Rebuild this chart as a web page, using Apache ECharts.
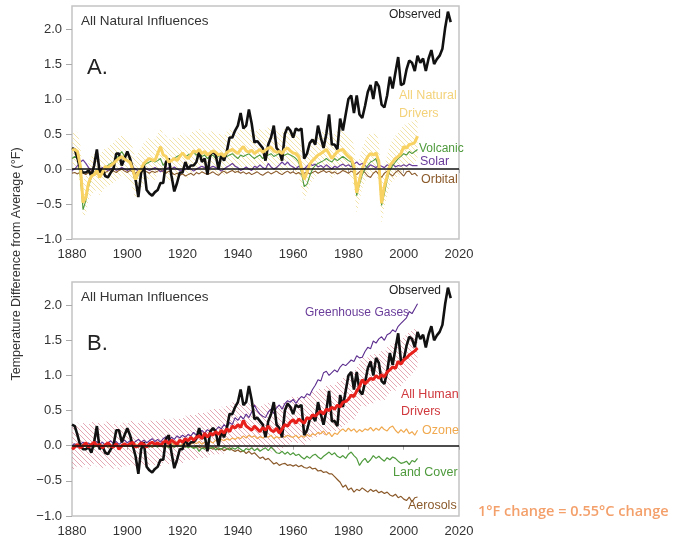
<!DOCTYPE html>
<html><head><meta charset="utf-8">
<script src="https://cdn.jsdelivr.net/npm/echarts@6/dist/echarts.min.js"></script>
<style>html,body{margin:0;padding:0;background:#fff;}#c{width:692px;height:543px;}</style>
</head><body><div id="c"></div>
<script>
// ---------- DATA ----------
const observedStart = 1880;
const observed = [
0.30,0.28,0.15,0.00,-0.05,-0.05,-0.02,-0.10,0.05,0.28,
-0.05,0.00,-0.10,-0.12,-0.05,0.00,0.22,0.22,0.05,0.15,
0.25,0.15,0.00,-0.15,-0.40,-0.05,0.05,-0.30,-0.35,-0.38,
-0.33,-0.30,-0.20,-0.20,0.10,0.15,-0.10,-0.32,-0.20,-0.05,
-0.05,0.10,0.00,0.05,0.05,0.10,0.25,0.10,0.15,-0.08,
0.20,0.25,0.20,0.00,0.20,0.12,0.25,0.45,0.45,0.55,
0.62,0.80,0.58,0.62,0.85,0.65,0.38,0.40,0.35,0.30,
0.12,0.35,0.45,0.62,0.30,0.25,0.12,0.50,0.60,0.55,
0.45,0.58,0.55,0.58,0.15,0.22,0.37,0.42,0.35,0.62,
0.45,0.30,0.50,0.78,0.35,0.35,0.28,0.72,0.55,0.78,
1.00,1.05,0.80,1.05,0.78,0.73,0.90,1.10,1.20,1.00,
1.25,1.18,0.92,0.88,1.05,1.32,1.15,1.38,1.60,1.20,
1.22,1.42,1.55,1.52,1.40,1.62,1.52,1.58,1.40,1.58,
1.70,1.50,1.57,1.62,1.72,2.02,2.25,2.10];

const modelStart = 1880;
const natural = [
0.27,0.28,0.25,0.05,-0.48,-0.40,-0.20,-0.10,-0.08,-0.02,
-0.12,-0.05,0.04,0.02,0.05,0.08,0.12,0.15,0.18,0.14,
0.12,0.10,-0.01,-0.15,-0.05,0.00,0.08,0.12,0.15,0.13,
0.12,0.22,0.32,0.20,0.18,0.10,0.12,0.15,0.12,0.18,
0.23,0.18,0.15,0.20,0.26,0.24,0.28,0.22,0.25,0.20,
0.23,0.26,0.24,0.20,0.22,0.18,0.24,0.26,0.28,0.25,
0.22,0.28,0.32,0.26,0.24,0.27,0.22,0.25,0.28,0.24,
0.27,0.30,0.31,0.26,0.24,0.25,0.22,0.28,0.30,0.26,
0.23,0.22,0.18,0.02,-0.15,-0.05,0.07,0.12,0.16,0.20,
0.22,0.25,0.28,0.22,0.15,0.20,0.25,0.27,0.28,0.22,
0.18,0.15,0.04,-0.34,-0.15,0.00,0.10,0.18,0.22,0.20,
0.23,0.10,-0.49,-0.25,-0.10,0.05,0.10,0.15,0.18,0.22,
0.32,0.30,0.35,0.36,0.38,0.47];
const naturalHigh = [
0.50,0.55,0.52,0.35,-0.15,-0.10,0.10,0.18,0.22,0.28,
0.20,0.25,0.32,0.30,0.35,0.38,0.42,0.45,0.48,0.45,
0.42,0.40,0.30,0.15,0.25,0.30,0.38,0.42,0.45,0.44,
0.42,0.50,0.58,0.50,0.48,0.42,0.44,0.46,0.44,0.48,
0.52,0.48,0.45,0.50,0.56,0.54,0.58,0.52,0.55,0.50,
0.52,0.56,0.54,0.50,0.52,0.48,0.54,0.56,0.58,0.55,
0.52,0.58,0.62,0.56,0.54,0.57,0.52,0.55,0.58,0.54,
0.57,0.60,0.61,0.56,0.54,0.55,0.52,0.58,0.60,0.56,
0.53,0.52,0.48,0.32,0.15,0.25,0.37,0.42,0.46,0.50,
0.52,0.55,0.58,0.52,0.45,0.50,0.55,0.57,0.58,0.52,
0.48,0.45,0.34,0.00,0.15,0.30,0.40,0.48,0.52,0.50,
0.53,0.40,-0.15,0.05,0.20,0.35,0.42,0.48,0.52,0.56,
0.64,0.62,0.67,0.68,0.70,0.75];
const naturalLow = [
0.00,0.00,-0.03,-0.25,-0.70,-0.65,-0.45,-0.36,-0.34,-0.28,
-0.38,-0.32,-0.24,-0.26,-0.22,-0.20,-0.16,-0.13,-0.10,-0.14,
-0.16,-0.18,-0.29,-0.44,-0.33,-0.28,-0.20,-0.16,-0.13,-0.15,
-0.16,-0.06,0.04,-0.08,-0.10,-0.18,-0.16,-0.13,-0.16,-0.10,
-0.05,-0.10,-0.13,-0.08,-0.02,-0.04,0.00,-0.06,-0.03,-0.08,
-0.05,-0.02,-0.04,-0.08,-0.06,-0.10,-0.04,-0.02,0.00,-0.03,
-0.06,0.00,0.04,-0.02,-0.04,-0.01,-0.06,-0.03,0.00,-0.04,
-0.01,0.02,0.03,-0.02,-0.04,-0.03,-0.06,0.00,0.02,-0.02,
-0.05,-0.06,-0.10,-0.28,-0.45,-0.35,-0.22,-0.16,-0.12,-0.08,
-0.06,-0.03,0.00,-0.06,-0.13,-0.08,-0.03,-0.01,0.00,-0.06,
-0.10,-0.13,-0.25,-0.64,-0.45,-0.28,-0.18,-0.10,-0.06,-0.08,
-0.05,-0.20,-0.79,-0.55,-0.38,-0.23,-0.18,-0.13,-0.10,-0.06,
0.02,0.00,0.05,0.06,0.08,0.15];
const volcanic = [
0.15,0.18,0.15,-0.10,-0.58,-0.45,-0.25,-0.12,-0.05,0.00,
-0.05,-0.02,0.02,0.05,0.08,0.10,0.15,0.20,0.25,0.18,
0.12,0.10,0.00,-0.18,-0.08,0.00,0.05,0.08,0.10,0.12,
0.10,0.12,0.15,0.05,0.10,0.12,0.12,0.15,0.18,0.20,
0.22,0.18,0.20,0.22,0.25,0.20,0.22,0.18,0.20,0.15,
0.18,0.20,0.15,0.18,0.22,0.20,0.18,0.20,0.22,0.18,
0.15,0.20,0.18,0.20,0.22,0.18,0.15,0.18,0.20,0.15,
0.18,0.20,0.22,0.18,0.20,0.22,0.18,0.20,0.22,0.20,
0.18,0.15,0.10,-0.05,-0.25,-0.22,-0.10,0.00,0.05,0.08,
0.10,0.12,0.15,0.12,0.10,0.15,0.12,0.15,0.18,0.15,
0.12,0.10,-0.05,-0.38,-0.22,-0.08,0.00,0.05,0.10,0.12,
0.15,0.00,-0.52,-0.35,-0.15,-0.02,0.05,0.10,0.15,0.18,
0.22,0.20,0.25,0.22,0.25,0.28];
const solar = [
-0.02,0.00,0.05,0.10,0.13,0.08,0.02,-0.02,-0.05,-0.03,
0.00,0.02,0.00,-0.02,0.00,0.02,-0.02,0.00,0.02,0.00,
-0.02,0.00,0.02,0.00,-0.03,0.00,0.02,0.00,-0.02,0.00,
0.02,0.00,-0.04,-0.02,0.00,0.02,0.00,0.03,0.00,-0.02,
-0.02,0.00,0.02,0.00,-0.03,0.00,0.02,0.04,0.02,0.00,
0.02,0.04,0.02,0.00,-0.03,0.00,0.03,0.05,0.08,0.04,
0.02,-0.02,0.00,0.03,0.00,-0.02,0.04,0.02,0.06,0.02,
0.00,0.08,0.03,0.00,0.02,0.06,0.10,0.06,0.10,0.05,
0.03,0.00,0.04,0.02,0.00,0.04,0.08,0.05,0.07,0.03,
0.05,0.02,0.06,0.03,0.00,0.04,0.02,0.05,0.07,0.04,
0.06,0.03,0.07,0.10,0.06,0.08,0.05,0.02,0.06,0.04,
0.02,0.06,0.04,0.02,0.06,0.04,0.07,0.03,0.05,0.04,
0.06,0.04,0.07,0.05,0.05,0.05];
const orbital = [
-0.06,-0.05,-0.07,-0.04,-0.06,-0.08,-0.05,-0.03,-0.05,-0.07,
-0.04,-0.02,-0.05,-0.03,-0.01,-0.03,-0.05,-0.02,0.00,-0.03,
-0.05,-0.02,-0.04,-0.06,-0.03,-0.05,-0.02,-0.04,-0.06,-0.03,
-0.05,-0.03,-0.01,-0.04,-0.06,-0.03,-0.05,-0.08,-0.06,-0.09,
-0.07,-0.10,-0.08,-0.06,-0.09,-0.05,-0.07,-0.04,-0.06,-0.08,
-0.06,-0.04,-0.07,-0.09,-0.05,-0.03,-0.06,-0.04,-0.02,-0.05,
-0.03,-0.06,-0.04,-0.07,-0.05,-0.08,-0.06,-0.04,-0.07,-0.09,
-0.06,-0.04,-0.07,-0.05,-0.03,-0.06,-0.08,-0.05,-0.03,-0.06,
-0.04,-0.07,-0.05,-0.08,-0.06,-0.04,-0.07,-0.05,-0.03,-0.06,
-0.04,-0.02,-0.05,-0.03,-0.06,-0.04,-0.07,-0.05,-0.02,-0.04,
-0.06,-0.03,-0.05,-0.08,-0.04,-0.02,-0.05,-0.10,-0.12,-0.06,
-0.03,-0.08,-0.12,-0.06,-0.03,-0.07,-0.10,-0.05,-0.02,-0.06,
-0.10,-0.04,-0.03,-0.08,-0.06,-0.10];

const human = [
-0.05,-0.02,0.02,-0.03,0.00,0.04,-0.02,0.02,0.05,0.00,
0.02,-0.03,0.01,0.04,0.00,-0.02,0.03,-0.05,0.00,0.03,
0.00,0.03,0.05,-0.02,0.00,0.04,0.02,-0.02,0.03,0.05,
0.02,0.04,0.00,0.05,0.07,0.03,0.08,0.05,0.02,0.08,
0.05,0.10,0.07,0.12,0.08,0.12,0.14,0.10,0.18,0.12,
0.18,0.15,0.20,0.16,0.22,0.18,0.24,0.20,0.28,0.25,
0.30,0.26,0.36,0.28,0.25,0.22,0.28,0.24,0.20,0.26,
0.22,0.28,0.22,0.20,0.25,0.18,0.24,0.30,0.28,0.34,
0.37,0.32,0.38,0.35,0.32,0.40,0.38,0.44,0.42,0.46,
0.49,0.45,0.52,0.50,0.55,0.52,0.58,0.55,0.62,0.63,
0.66,0.72,0.70,0.78,0.84,0.94,0.88,0.92,0.96,0.94,
1.00,0.96,1.01,0.98,1.05,1.08,1.12,1.10,1.20,1.16,
1.22,1.25,1.29,1.32,1.35,1.39];
const humanHigh = [
0.28,0.30,0.33,0.28,0.32,0.35,0.30,0.33,0.36,0.32,
0.34,0.30,0.33,0.36,0.32,0.30,0.35,0.28,0.32,0.35,
0.32,0.35,0.37,0.30,0.32,0.36,0.34,0.30,0.35,0.37,
0.34,0.36,0.33,0.38,0.40,0.36,0.40,0.38,0.35,0.40,
0.38,0.43,0.40,0.45,0.42,0.45,0.48,0.44,0.50,0.47,
0.52,0.50,0.55,0.50,0.56,0.52,0.58,0.55,0.62,0.60,
0.64,0.60,0.66,0.62,0.60,0.56,0.62,0.58,0.55,0.60,
0.58,0.62,0.56,0.55,0.60,0.52,0.58,0.64,0.62,0.68,
0.72,0.66,0.72,0.70,0.66,0.74,0.72,0.78,0.76,0.80,
0.84,0.80,0.86,0.84,0.90,0.86,0.92,0.90,0.96,0.98,
1.00,1.06,1.04,1.12,1.18,1.28,1.22,1.26,1.30,1.28,
1.34,1.30,1.35,1.32,1.40,1.42,1.46,1.44,1.54,1.50,
1.55,1.58,1.62,1.64,1.66,1.62];
const humanLow = [
-0.35,-0.32,-0.28,-0.34,-0.30,-0.26,-0.33,-0.28,-0.25,-0.30,
-0.28,-0.33,-0.29,-0.26,-0.30,-0.33,-0.27,-0.35,-0.30,-0.27,
-0.30,-0.27,-0.25,-0.32,-0.30,-0.26,-0.28,-0.32,-0.27,-0.25,
-0.28,-0.26,-0.30,-0.25,-0.23,-0.27,-0.22,-0.25,-0.28,-0.22,
-0.25,-0.20,-0.23,-0.18,-0.22,-0.18,-0.16,-0.20,-0.14,-0.17,
-0.12,-0.15,-0.10,-0.14,-0.08,-0.12,-0.06,-0.10,-0.02,-0.05,
0.00,-0.04,0.02,-0.02,-0.05,-0.08,-0.02,-0.06,-0.10,-0.04,
-0.06,-0.02,-0.08,-0.10,-0.05,-0.12,-0.06,0.00,-0.02,0.04,
0.06,0.00,0.06,0.04,0.00,0.08,0.06,0.12,0.10,0.14,
0.16,0.12,0.18,0.16,0.22,0.18,0.24,0.22,0.28,0.30,
0.34,0.38,0.36,0.44,0.50,0.60,0.54,0.58,0.62,0.60,
0.66,0.62,0.67,0.64,0.72,0.76,0.80,0.78,0.88,0.84,
0.90,0.94,0.98,1.02,1.06,1.12];
const greenhouse = [
0.00,0.03,-0.02,0.02,0.05,0.01,0.04,0.00,0.03,0.06,
0.02,0.05,0.01,0.04,0.07,0.03,0.06,0.02,0.05,0.08,
0.04,0.07,0.03,0.06,0.09,0.05,0.08,0.04,0.07,0.10,
0.06,0.09,0.05,0.10,0.13,0.08,0.12,0.09,0.14,0.11,
0.15,0.12,0.16,0.14,0.19,0.15,0.18,0.22,0.18,0.23,
0.20,0.25,0.22,0.27,0.24,0.30,0.26,0.33,0.30,0.40,
0.36,0.42,0.38,0.45,0.40,0.48,0.58,0.50,0.45,0.42,
0.40,0.48,0.52,0.46,0.54,0.58,0.52,0.60,0.64,0.62,
0.66,0.60,0.66,0.70,0.68,0.74,0.72,0.80,0.86,0.94,
0.92,1.04,1.06,1.00,1.04,1.08,1.05,1.12,1.16,1.14,
1.18,1.22,1.20,1.28,1.25,1.26,1.34,1.40,1.38,1.49,
1.46,1.52,1.55,1.50,1.58,1.60,1.65,1.62,1.70,1.74,
1.78,1.82,1.91,1.88,1.95,2.02];
const ozone = [
0.00,-0.02,0.01,-0.03,0.00,0.02,-0.02,0.00,0.03,-0.01,
0.01,-0.02,0.02,0.00,-0.03,0.01,0.03,-0.01,0.01,0.02,
-0.01,0.02,0.00,0.03,-0.01,0.01,0.03,0.00,0.02,-0.01,
0.02,0.00,0.03,0.01,-0.02,0.02,0.04,0.01,0.03,0.00,
0.03,0.01,0.04,0.02,0.05,0.03,0.06,0.02,0.05,0.04,
0.06,0.04,0.08,0.05,0.09,0.07,0.10,0.08,0.11,0.09,
0.12,0.10,0.14,0.11,0.15,0.12,0.14,0.10,0.13,0.11,
0.14,0.12,0.15,0.10,0.13,0.11,0.14,0.12,0.15,0.13,
0.12,0.15,0.11,0.14,0.12,0.16,0.13,0.17,0.15,0.19,
0.17,0.21,0.15,0.19,0.13,0.18,0.16,0.21,0.24,0.20,
0.25,0.21,0.24,0.19,0.23,0.20,0.24,0.22,0.26,0.21,
0.25,0.22,0.27,0.23,0.21,0.26,0.28,0.22,0.18,0.23,
0.19,0.24,0.17,0.20,0.15,0.22];
const landCover = [
0.00,0.01,-0.01,0.00,0.02,-0.01,0.00,0.01,-0.02,0.00,
0.01,-0.01,0.00,0.02,-0.01,0.00,0.01,-0.02,0.00,0.01,
-0.01,0.00,0.01,-0.02,0.00,0.01,-0.01,0.00,-0.02,0.01,
0.00,-0.02,0.01,-0.01,0.00,-0.03,0.00,-0.02,0.01,-0.01,
-0.02,0.00,-0.03,-0.01,-0.04,-0.02,-0.08,-0.03,-0.05,-0.02,
-0.04,-0.02,-0.06,-0.03,-0.05,-0.02,-0.04,-0.06,-0.03,-0.05,
-0.02,-0.05,-0.08,-0.04,-0.06,-0.03,-0.07,-0.04,-0.08,-0.05,
-0.03,-0.07,-0.02,-0.06,-0.10,-0.11,-0.08,-0.12,-0.09,-0.13,
-0.10,-0.14,-0.12,-0.16,-0.19,-0.15,-0.18,-0.14,-0.12,-0.16,
-0.19,-0.15,-0.12,-0.09,-0.13,-0.10,-0.15,-0.17,-0.14,-0.18,
-0.12,-0.09,-0.14,-0.18,-0.28,-0.22,-0.18,-0.24,-0.20,-0.14,
-0.18,-0.15,-0.19,-0.22,-0.17,-0.20,-0.16,-0.18,-0.22,-0.25,
-0.24,-0.22,-0.27,-0.21,-0.23,-0.18];
const aerosols = [
0.00,-0.01,0.01,0.00,-0.02,0.01,0.00,-0.01,0.01,0.00,
-0.01,0.01,0.00,-0.02,0.00,0.01,-0.01,0.00,0.01,-0.01,
0.00,-0.01,0.01,0.00,-0.02,0.00,0.01,-0.01,0.00,-0.02,
0.00,-0.01,0.01,-0.02,0.00,-0.01,0.01,-0.02,0.00,-0.01,
0.00,-0.02,0.00,-0.01,-0.03,0.00,-0.02,-0.04,-0.02,-0.05,
-0.03,-0.05,-0.02,-0.06,-0.04,-0.07,-0.05,-0.03,-0.06,-0.08,
-0.06,-0.09,-0.07,-0.11,-0.08,-0.12,-0.10,-0.14,-0.18,-0.16,
-0.20,-0.18,-0.22,-0.26,-0.24,-0.28,-0.26,-0.25,-0.28,-0.27,
-0.29,-0.27,-0.30,-0.28,-0.31,-0.32,-0.30,-0.33,-0.32,-0.36,
-0.35,-0.38,-0.37,-0.40,-0.40,-0.44,-0.48,-0.52,-0.59,-0.56,
-0.63,-0.60,-0.66,-0.62,-0.64,-0.60,-0.63,-0.66,-0.62,-0.65,
-0.63,-0.67,-0.65,-0.68,-0.66,-0.70,-0.72,-0.69,-0.74,-0.72,
-0.76,-0.78,-0.73,-0.80,-0.74,-0.73];

const yTicks = [-1.0,-0.5,0.0,0.5,1.0,1.5,2.0];
const xTicks = [1880,1900,1920,1940,1960,1980,2000,2020];

// ---------- HELPERS ----------
function pairs(start, arr){ return arr.map((v,i)=>[start+i, v]); }
function hatch(color){
  const s=5, c=document.createElement('canvas'); c.width=s; c.height=s;
  const g=c.getContext('2d'); g.strokeStyle=color; g.lineWidth=1.0;
  g.beginPath();
  g.moveTo(-1,-1); g.lineTo(s+1,s+1);
  g.moveTo(s-1,-1); g.lineTo(s+1,1);
  g.moveTo(-1,s-1); g.lineTo(1,s+1);
  g.stroke();
  return c;
}
const FONT='"Liberation Sans", Arial, sans-serif';

function xAxis(gi){
  return {type:'value', gridIndex:gi, min:1880, max:2020, interval:20,
    axisLine:{show:false}, splitLine:{show:false},
    axisTick:{show:true, length:4, lineStyle:{color:'#aaa'}},
    axisLabel:{color:'#333', fontSize:13, fontFamily:FONT, margin:9, customValues:xTicks, formatter:v=>String(v)}};
}
function yAxis(gi){
  return {type:'value', gridIndex:gi, min:-1, max:2.33, interval:0.5,
    axisLine:{show:false}, splitLine:{show:false},
    axisTick:{show:true, length:6, lineStyle:{color:'#aaa'}, customValues:yTicks},
    axisLabel:{color:'#333', fontSize:13, fontFamily:FONT, margin:10, customValues:yTicks,
      formatter:v=>{ const s=Math.abs(v).toFixed(1); return v<-1e-9 ? '\u2212'+s : s; }}};
}
function line(name, gi, data, color, width, z){
  return {name, type:'line', xAxisIndex:gi, yAxisIndex:gi, data, showSymbol:false, symbol:'none',
    lineStyle:{color, width}, z:z||2, silent:true};
}
// uncertainty band drawn as one polygon through the axis scales
function band(name, gi, lo, hi, fill){
  const data = lo.map((v,i)=>[modelStart+i, v, hi[i]]);
  return {name, type:'custom', xAxisIndex:gi, yAxisIndex:gi, data, silent:true, z:1, clip:true,
    encode:{x:0, y:[1,2]},
    renderItem:(params, api)=>{
      if (params.dataIndex !== 0) return null;
      const pts = [];
      for (let i=0;i<data.length;i++) pts.push(api.coord([data[i][0], data[i][2]]));
      for (let i=data.length-1;i>=0;i--) pts.push(api.coord([data[i][0], data[i][1]]));
      return {type:'polygon', shape:{points:pts}, style:{fill, stroke:null}};
    }};
}
const zeroLine = {silent:true, symbol:'none', label:{show:false},
  lineStyle:{color:'#111', width:1.5, type:'solid'}, data:[{yAxis:0}]};

const chart = echarts.init(document.getElementById('c'), null, {renderer:'canvas'});
const obsTop = line('Observed', 0, pairs(observedStart, observed), '#111', 2.6, 3);
obsTop.markLine = zeroLine;
const obsBot = line('Observed', 1, pairs(observedStart, observed), '#111', 2.6, 3);
obsBot.markLine = zeroLine;

function txt(text, x, y, size, color, align){
  return {type:'text', x, y, silent:true, z:100,
    style:{text, fill:color, font:size+'px '+FONT, textAlign:align||'left', textVerticalAlign:'middle'}};
}

chart.setOption({
  animation:false,
  backgroundColor:'#fff',
  grid:[
    {left:72, top:6, width:387, height:233, show:true, borderColor:'#c4c4c4', borderWidth:1.5, backgroundColor:'transparent'},
    {left:72, top:282, width:387, height:234, show:true, borderColor:'#c4c4c4', borderWidth:1.5, backgroundColor:'transparent'}
  ],
  xAxis:[xAxis(0), xAxis(1)],
  yAxis:[yAxis(0), yAxis(1)],
  series:[
    band('natBand', 0, naturalLow, naturalHigh, {image:hatch('rgba(238,218,140,0.75)'), repeat:'repeat'}),
    line('Orbital', 0, pairs(modelStart, orbital), '#8b5a2b', 1.1),
    line('Solar', 0, pairs(modelStart, solar), '#6a3d9a', 1.2),
    line('Volcanic', 0, pairs(modelStart, volcanic), '#4e9a3c', 1.1),
    obsTop,
    line('All Natural', 0, pairs(modelStart, natural), '#f8d262', 3, 4),

    band('humBand', 1, humanLow, humanHigh, {image:hatch('rgba(210,110,130,0.6)'), repeat:'repeat'}),
    line('Aerosols', 1, pairs(modelStart, aerosols), '#8b5a2b', 1.2),
    line('Land Cover', 1, pairs(modelStart, landCover), '#4e9a3c', 1.2),
    line('Ozone', 1, pairs(modelStart, ozone), '#f0a94e', 1.2),
    line('Greenhouse Gases', 1, pairs(modelStart, greenhouse), '#5b2d8e', 1.1),
    obsBot,
    line('All Human', 1, pairs(modelStart, human), '#e8201c', 3, 4)
  ],
  graphic:[
    txt('All Natural Influences', 81, 21, 13.5, '#333'),
    txt('A.', 87, 68, 22, '#222'),
    txt('Observed', 441, 15, 12, '#222', 'right'),
    txt('All Natural', 399, 96, 12.5, '#f3d27a'),
    txt('Drivers', 399, 114, 12.5, '#f3d27a'),
    txt('Volcanic', 419, 149, 12, '#4e9a3c'),
    txt('Solar', 420, 162, 12.5, '#6a3d9a'),
    txt('Orbital', 421, 179.5, 12.5, '#8b5a2b'),
    txt('All Human Influences', 81, 297, 13.5, '#333'),
    txt('B.', 87, 344, 22, '#222'),
    txt('Observed', 441, 291, 12, '#222', 'right'),
    txt('Greenhouse Gases', 305, 312.5, 12, '#6a3d9a'),
    txt('All Human', 401, 395, 12.5, '#d0393e'),
    txt('Drivers', 401, 412, 12.5, '#d0393e'),
    txt('Ozone', 422, 431, 12.5, '#f0a94e'),
    txt('Land Cover', 393, 472.5, 12.5, '#4e9a3c'),
    txt('Aerosols', 408, 506, 12.5, '#8b5a2b'),
    {type:'text', x:17, y:264, rotation:Math.PI/2, silent:true, z:100,
      style:{text:'Temperature Difference from Average (\u00b0F)', fill:'#333', font:'12.5px '+FONT, textAlign:'center', textVerticalAlign:'middle'}},
    {type:'text', x:478, y:511.5, silent:true, z:100,
      style:{text:'1\u00b0F change = 0.55\u00b0C change', fill:'#f4a06b', font:'600 14.5px "Open Sans", sans-serif', textAlign:'left', textVerticalAlign:'middle'}}
  ]
});
</script></body></html>
